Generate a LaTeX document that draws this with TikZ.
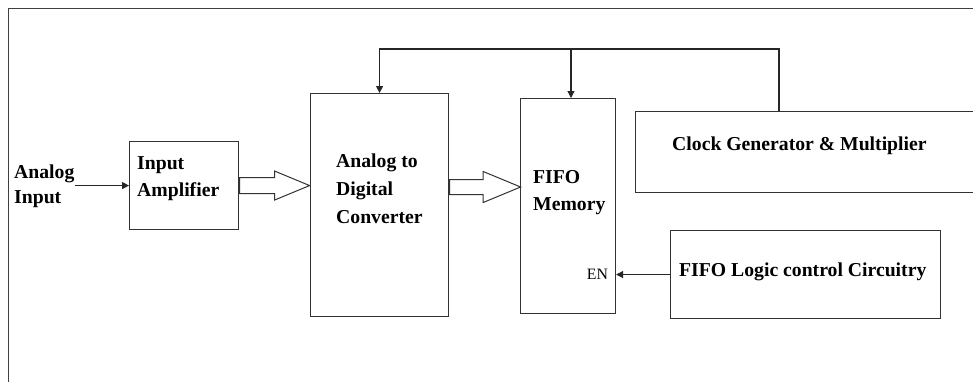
\documentclass[tikz,border=0pt]{standalone}
\usepackage{fontspec}
\setmainfont{Liberation Serif}
\usetikzlibrary{arrows.meta,shapes.arrows,calc}
\tikzset{blk/.style={draw=black!80, line width=1.1pt, inner sep=0pt, anchor=north west},
    lbl/.style={font=\bfseries\fontsize{19.7}{28}\selectfont, align=left, anchor=west, inner sep=0pt},
    arr/.style={draw=black!85, line width=1.1pt, -{Triangle[length=7pt,width=7pt]}},
    fat/.style={single arrow, draw=black!80, line width=1pt, fill=white, inner xsep=0pt,
      single arrow tip angle=45, single arrow head indent=0pt, anchor=tail},}

\begin{document}
\begin{tikzpicture}[x=1pt,y=-1pt]
  \useasboundingbox (0,0) rectangle (973,381);
  \clip (0,0) rectangle (973,381);
  \draw[black!75, line width=0.9pt] (973,8) -- (8,8) -- (8,390);
  % blocks
  \node[blk, minimum width=109, minimum height=88] (amp) at (129,141) {};
  \node[blk, minimum width=138, minimum height=223] (adc) at (310,93) {};
  \node[blk, minimum width=95, minimum height=215] (fifo) at (520,98) {};
  \node[blk, minimum width=360, minimum height=81] (clock) at (635,111) {};
  \node[blk, minimum width=270, minimum height=88] (logic) at (670,230) {};
  % labels
  \node[lbl] (ain) at (14,186) {Analog\\[-3pt]Input};
  \node[lbl] (amptext) at (137,179) {Input\\[-1pt]Amplifier};
  \node[lbl] (adctext) at (336,189) {Analog to\\Digital\\Converter};
  \node[lbl] (fifotext) at (533,193) {FIFO\\[-1pt]Memory};
  \node[lbl] (clocktext) at (672,146) {Clock Generator \& Multiplier};
  \node[lbl] (logictext) at (679,272) {FIFO Logic control Circuitry};
  \node[font=\fontsize{15.8}{18}\selectfont, anchor=east, inner sep=0pt] (en) at ($(logic.west -| fifo.east)+(-8,0)$) {EN};
  % data path
  \draw[arr] (ain.east |- amp.west) -- (amp.west);
  \node[fat, minimum height=70, inner ysep=7.5pt, single arrow head extend=6.5] (amp2adc) at (amp.east) {};
  \node[fat, minimum height=71, inner ysep=7pt, single arrow head extend=8] (adc2fifo) at (adc.east |- 0,187) {};
  \draw[arr] (logic.west) -- (logic.west -| fifo.east);
  % clock lines
  \coordinate (tap) at (779,49);
  \coordinate (tap2) at (571,49);
  \draw[arr] (clock.north -| tap) -- (tap) -| (adc.north);
  \draw[arr] (tap2) -- (tap2 |- fifo.north);
\end{tikzpicture}
\end{document}
